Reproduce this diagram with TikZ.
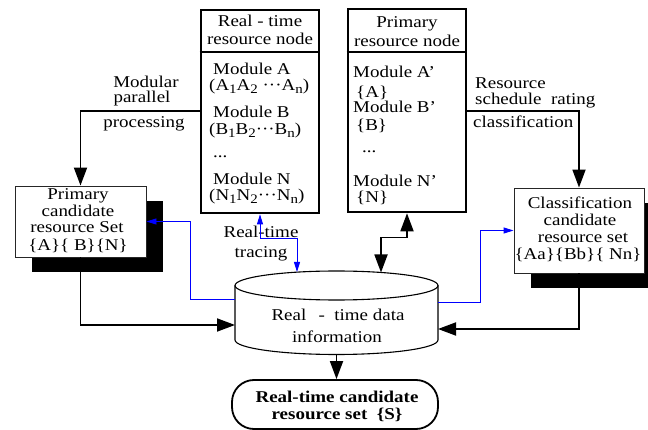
\documentclass[tikz,border=0pt]{standalone}
\usepackage{fontspec}
\setmainfont{Liberation Serif}[FakeStretch=1.15]
\usetikzlibrary{arrows.meta,shadows,calc}

% lowered index digits/letters inside the module lists
\newcommand\idx[1]{\raisebox{-0.32ex}{\fontsize{13}{13}\selectfont #1}}

\tikzset{
  txt/.style={inner sep=0pt, anchor=base, font=\fontsize{16.5}{17}\selectfont},
  txtl/.style={txt, anchor=base west},
  txtb/.style={txt, font=\fontsize{16.5}{17}\selectfont\bfseries},
  resbox/.style={draw, line width=2.6pt, minimum width=118pt, minimum height=203pt, inner sep=0pt},
  candbox/.style={draw=black!85, line width=0.9pt, fill=white, inner sep=0pt,
    drop shadow={shadow xshift=17pt, shadow yshift=-15pt, fill=black, opacity=1}},
  flow/.style={line width=1.8pt, -{Triangle[length=18pt,width=13pt]}},
  flowboth/.style={line width=1.8pt, {Triangle[length=18pt,width=13pt]}-{Triangle[length=18pt,width=13pt]}},
  trace/.style={blue, line width=0.9pt, -{Triangle[length=10pt,width=6pt]}},
  traceboth/.style={blue, line width=0.9pt, {Triangle[length=10pt,width=6pt]}-{Triangle[length=10pt,width=6pt]}},
}

\begin{document}
\begin{tikzpicture}[x=1pt,y=-1pt]
\path[use as bounding box] (0,0) rectangle (648,430);
\clip (0,0) rectangle (648,430);

% ---- resource node tables ----
\node[resbox] (rt) at (260,111.5) {};
\node[resbox] (pr) at (407,110.5) {};
\coordinate (hdr) at (0,52);
\draw[line width=2.6pt] (rt.west |- hdr) -- (rt.east |- hdr);
\draw[line width=2.6pt] (pr.west |- hdr) -- (pr.east |- hdr);

\node[txt]  (rtH1) at (260,27) {Real - time};
\node[txt]  (rtH2) at (260,45) {resource node};
\node[txtl] (rtA)  at (213,75) {Module A};
\node[txtl] (rtAs) at (209,91) {(A\idx{1}A\idx{2} ···A\idx{n})};
\node[txtl] (rtB)  at (213,118) {Module B};
\node[txtl] (rtBs) at (209,135) {(B\idx{1}B\idx{2}···B\idx{n})};
\node[txtl] (rtD)  at (213,158) {...};
\node[txtl] (rtN)  at (213,185) {Module N};
\node[txtl] (rtNs) at (209,201) {(N\idx{1}N\idx{2}···N\idx{n})};

\node[txt]  (prH1) at (407,28) {Primary};
\node[txt]  (prH2) at (407,47) {resource node};
\node[txtl] (prA)  at (353,78) {Module A’};
\node[txtl] (prAs) at (356,98) {\{A\}};
\node[txtl] (prB)  at (353,113) {Module B’};
\node[txtl] (prBs) at (356,131) {\{B\}};
\node[txtl] (prD)  at (362,153) {...};
\node[txtl] (prN)  at (353,187) {Module N’};
\node[txtl] (prNs) at (356,203) {\{N\}};

% ---- candidate sets ----
\node[candbox, minimum width=131pt, minimum height=71pt] (pc) at (80.5,221.5) {};
\node[txt] (pc1) at (78,200) {Primary};
\node[txt] (pc2) at (78,217) {candidate};
\node[txt] (pc3) at (77,233) {resource Set};
\node[txt] (pc4) at (78,251) {\{A\}\{ B\}\{N\}};

\node[candbox, minimum width=130pt, minimum height=85pt] (cc) at (579,230.5) {};
\node[txt] (cc1) at (580,209) {Classification};
\node[txt] (cc2) at (580,226) {candidate};
\node[txt] (cc3) at (583,243) {resource set};
\node[txt] (cc4) at (578,260) {\{Aa\}\{Bb\}\{ Nn\}};

% ---- data store ----
\node[minimum width=203pt, minimum height=83.5pt, inner sep=0pt] (db) at (336.5,312.75) {};
\draw[line width=1.1pt, fill=white] (235,285.5) -- (235,340)
  arc[start angle=180, end angle=0, x radius=101.5, y radius=14.5] -- (438,285.5);
\draw[line width=1.1pt] (336.5,285.5) ellipse [x radius=101.5, y radius=14.5];
\node[txt] (db1) at (338,321) {Real \, - \ time data};
\node[txt] (db2) at (337,342) {information};

% ---- result ----
\node[draw, line width=1.8pt, rounded corners=22pt, minimum width=206pt, minimum height=49pt] (out) at (335,404.5) {};
\node[txtb] (out1) at (337,402) {Real-time candidate};
\node[txtb] (out2) at (337,419) {resource set \ \{S\}};

% ---- connector labels ----
\node[txt]  (l1) at (146,88) {Modular};
\node[txt]  (l2) at (142,103) {parallel};
\node[txt]  (l3) at (144,128) {processing};
\node[txtl] (r1) at (475,89) {Resource};
\node[txtl] (r2) at (475,105) {schedule \ rating};
\node[txtl] (r3) at (473,128) {classification};
\node[txt]  (t1) at (261,238) {Real-time};
\node[txt]  (t2) at (261,258) {tracing};

% ---- connectors ----
\coordinate (mpY) at (0,111);
\draw[flow] (rt.west |- mpY) -| (pc.north);
\draw[flow] (pr.east |- mpY) -| (cc.north);

\coordinate (trkT) at (297,272);
\draw[traceboth] (rt.south) |- ($(trkT)+(0,-34)$) -- (trkT);
\coordinate (stT) at (381,272.5);
\draw[flowboth] (pr.south) |- ($(stT)+(0,-35)$) -- (stT);

\coordinate (dbW1) at (235,299);
\draw[trace] (dbW1) -| ($(pc.east)+(44,0)$) -- (pc.east);
\coordinate (dbE1) at (438,302);
\draw[trace] (dbE1) -| ($(cc.west)+(-33,0)$) -- (cc.west);

\coordinate (dbW2) at (235,325);
\draw[flow] (pc.south) |- (dbW2);
\coordinate (dbE2) at (438,329);
\draw[flow] (cc.south) |- (dbE2);

\coordinate (dbS) at (336.5,354.5);
\draw[flow] (dbS) -- (dbS |- out.north);
\end{tikzpicture}
\end{document}
